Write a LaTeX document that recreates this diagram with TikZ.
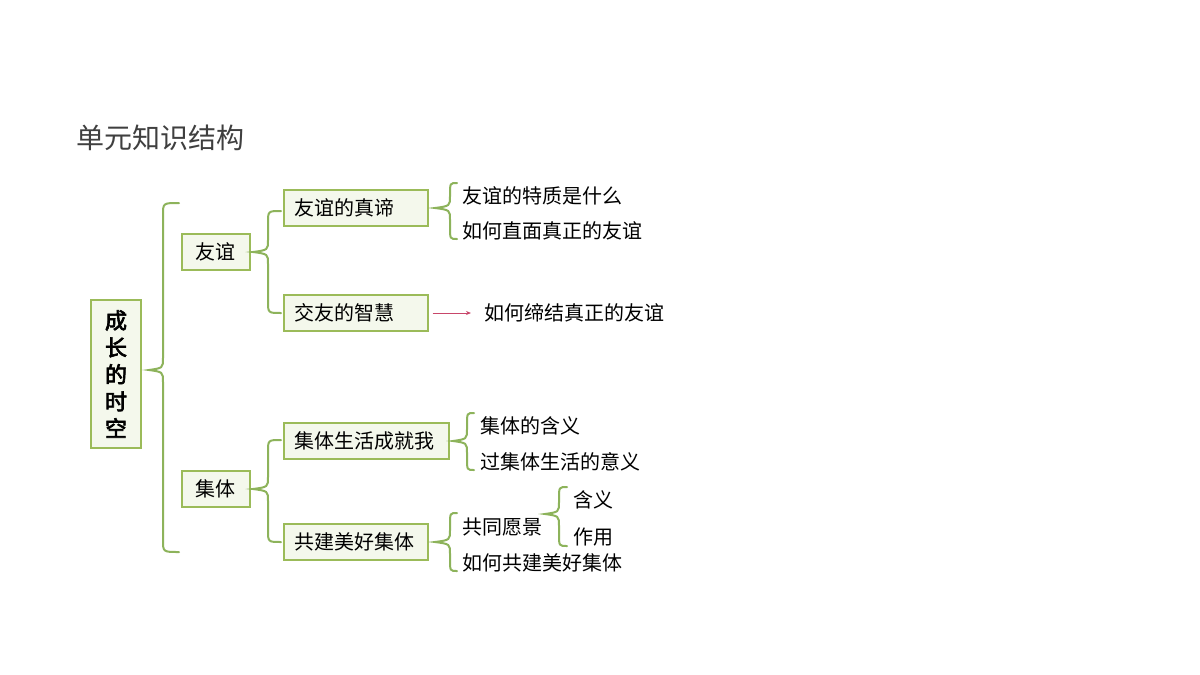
\documentclass[tikz,border=0pt]{standalone}
\usepackage{fontspec}
\usetikzlibrary{arrows.meta}
\setmainfont{Noto Sans CJK SC}
\newfontfamily\cjkbold[FakeBold=3]{Noto Sans CJK SC}
\definecolor{boxgreen}{HTML}{9BBB59}
\definecolor{bracegreen}{HTML}{8DB35B}
\definecolor{boxfill}{HTML}{F4F8EC}
\definecolor{arrowred}{HTML}{C8466A}
\definecolor{titlegray}{HTML}{3F3F3F}
\newcommand{\fs}[1]{\fontsize{#1}{#1}\selectfont}
% tipx, vx, endx, ytop, ymid, ybot
\newcommand{\mybrace}[6]{%
  \draw[bracegreen, line width=2pt, line cap=round]
    (#3,#4) .. controls (#2,#4) .. (#2,#4+12)
    -- (#2,#5-12) .. controls (#2,#5-2) .. (#1,#5)
    .. controls (#2,#5+2) .. (#2,#5+12)
    -- (#2,#6-12) .. controls (#2,#6) .. (#3,#6);}
\begin{document}
\begin{tikzpicture}[x=1pt,y=-1pt,
  box/.style={draw=boxgreen, line width=1.5pt, fill=boxfill, inner xsep=11pt, inner ysep=0pt,
    minimum height=36pt, align=left, anchor=west, font=\fs{20}},
  sbox/.style={box, align=center, text width=46pt},
  txt/.style={anchor=west, inner sep=0pt, font=\fs{20}},
  redarrow/.style={arrowred, line width=1pt, -{Stealth[length=5pt,width=4pt]}}]
\useasboundingbox (0,0) rectangle (1200,675);
\fill[white] (0,0) rectangle (1200,675);

\node[anchor=west, inner sep=0pt, font=\fs{28}, text=titlegray] (title) at (76,138) {单元知识结构};

\node[draw=boxgreen, line width=1.5pt, fill=boxfill, minimum width=50pt, minimum height=148pt,
  inner sep=0pt, align=center, font=\cjkbold\fontsize{22}{27}\selectfont] (root) at (116,374)
  {成\\长\\的\\时\\空};

\mybrace{149}{163}{179}{203}{370}{552}

\node[sbox] (yy) at (181,252) {友谊};
\node[sbox] (jt) at (181,489) {集体};

\mybrace{253}{268}{281}{211}{252}{313}
\mybrace{253}{268}{281}{440}{489}{542}

\node[box, text width=122pt] (zd) at (283,208) {友谊的真谛};
\node[box, text width=122pt] (zh) at (283,313) {交友的智慧};
\node[box, text width=143pt] (sh) at (283,441) {集体生活成就我};
\node[box, text width=122pt] (gj) at (283,542) {共建美好集体};

\mybrace{435}{450}{457}{183}{208}{239}
\node[txt] (t1) at (462,196) {友谊的特质是什么};
\node[txt] (t2) at (462,231) {如何直面真正的友谊};

\node[txt] (t3) at (484,313) {如何缔结真正的友谊};
\draw[redarrow, shorten <=4pt, shorten >=13pt] (zh.east) -- (t3.west);

\mybrace{453}{467}{474}{413}{441}{470}
\node[txt] (t4) at (480,426) {集体的含义};
\node[txt] (t5) at (480,462) {过集体生活的意义};

\mybrace{435}{450}{457}{513}{542}{571}
\node[txt] (t6) at (462,527) {共同愿景};
\node[txt] (t7) at (462,563) {如何共建美好集体};

\mybrace{545}{559}{567}{487}{514}{546}
\node[txt] (t8) at (573,500) {含义};
\node[txt] (t9) at (573,537) {作用};
\end{tikzpicture}
\end{document}
